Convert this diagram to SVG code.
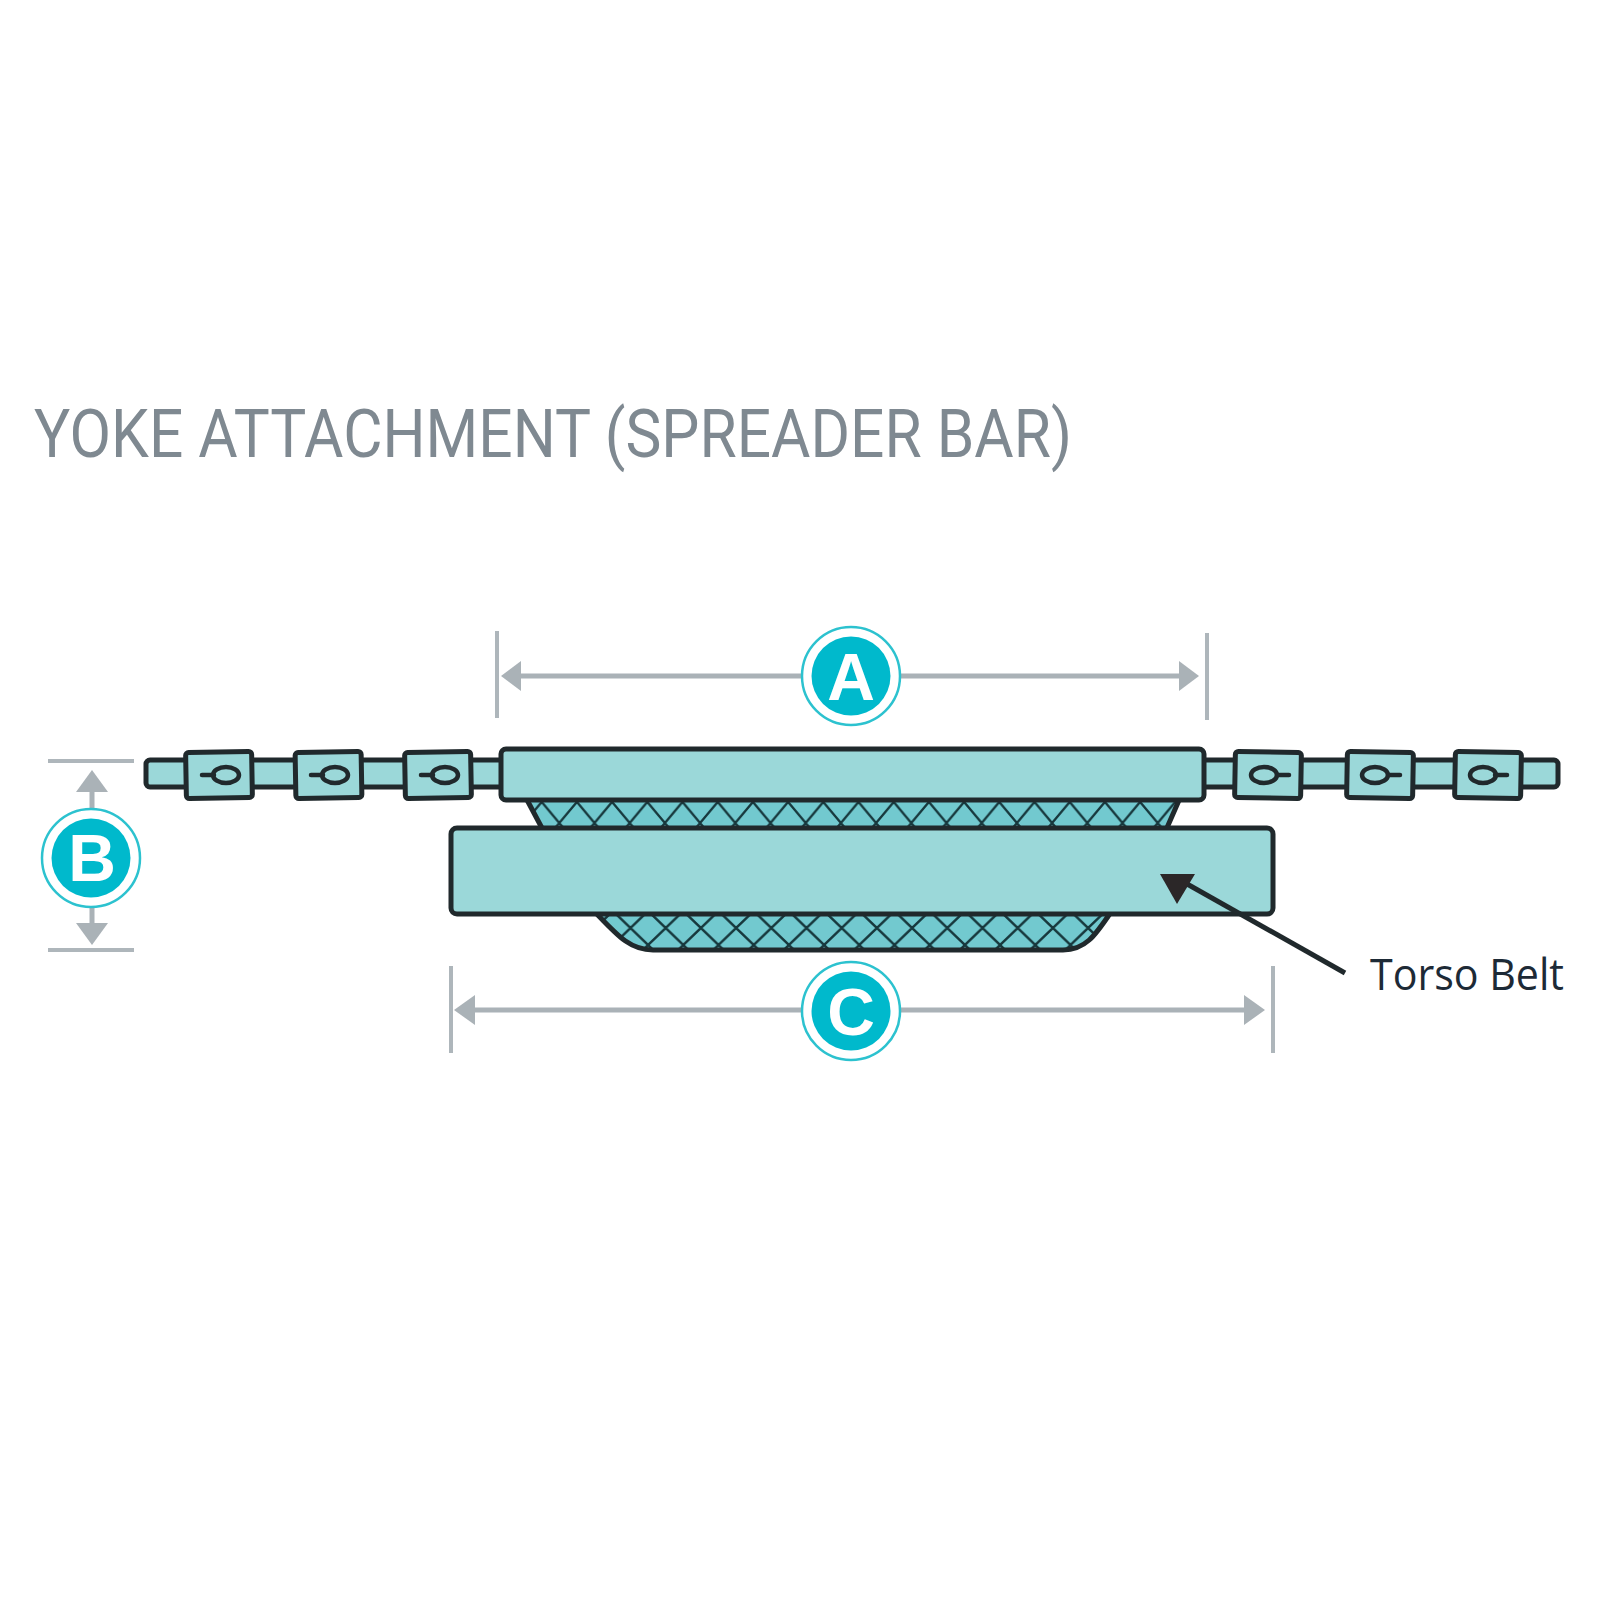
<svg xmlns="http://www.w3.org/2000/svg" xmlns:xlink="http://www.w3.org/1999/xlink" width="1600" height="1600" viewBox="0 0 1600 1600">
<style>
.part{fill:#9bd8d9;stroke:#20292c;stroke-width:5;stroke-linejoin:round}
.eye{fill:none;stroke:#20292c;stroke-width:4.5;stroke-linecap:round}
.dim{fill:none;stroke:#aab2b7;stroke-width:5}
.tick{fill:none;stroke:#aeb6bb;stroke-width:4}
.head{fill:#aab2b7;stroke:none}
.ring{fill:#fff;stroke:#2cc2cf;stroke-width:2.5}
.disc{fill:#00b9cc}
.letter{font-family:"Liberation Sans",Arial,sans-serif;font-weight:700;font-size:66px;fill:#fff;text-anchor:middle}
.mesh{stroke:#20292c;stroke-width:5;stroke-linejoin:round}
</style>
<defs>
<pattern id="hatchTop" width="35.2" height="42" patternUnits="userSpaceOnUse" x="541.7" y="802">
<rect width="35.2" height="42" fill="#72c9cf"/>
<path d="M0 0L35.2 42M35.2 0L0 42" stroke="#17383d" stroke-width="2.4" fill="none"/>
</pattern>
<pattern id="hatchBottom" width="35.2" height="34" patternUnits="userSpaceOnUse" x="683.3" y="945">
<rect width="35.2" height="34" fill="#72c9cf"/>
<path d="M0 0L35.2 34M35.2 0L0 34" stroke="#17383d" stroke-width="2.4" fill="none"/>
</pattern>
<g id="link"><rect x="-33" y="-23" width="66" height="46" rx="3" class="part"/></g>
</defs>
<rect width="1600" height="1600" fill="#fff"/>
<text id="title" x="34" y="457" font-family="Roboto,'Liberation Sans',sans-serif" font-weight="400" font-size="66" fill="#7f8991" textLength="1038" lengthAdjust="spacingAndGlyphs">YOKE ATTACHMENT (SPREADER BAR)</text>

<g id="chain-left">
<rect x="146" y="760" width="358" height="27" rx="4" class="part"/>
<g id="link-l1"><use xlink:href="#link" href="#link" transform="translate(219 775) rotate(-1)"/><path class="eye" d="M202 775H214"/><ellipse class="eye" cx="226" cy="775" rx="13" ry="8"/></g>
<g id="link-l2"><use xlink:href="#link" href="#link" transform="translate(328.500 775) rotate(-1)"/><path class="eye" d="M311 775H323"/><ellipse class="eye" cx="335" cy="775" rx="13" ry="8"/></g>
<g id="link-l3"><use xlink:href="#link" href="#link" transform="translate(438 775) rotate(-1)"/><path class="eye" d="M421 775H433"/><ellipse class="eye" cx="445" cy="775" rx="13" ry="8"/></g>
</g>

<g id="chain-right">
<rect x="1197" y="760" width="361" height="27" rx="4" class="part"/>
<g id="link-r1"><use xlink:href="#link" href="#link" transform="translate(1268 775) rotate(1)"/><path class="eye" d="M1277 775H1289"/><ellipse class="eye" cx="1264" cy="775" rx="13" ry="8"/></g>
<g id="link-r2"><use xlink:href="#link" href="#link" transform="translate(1380 775) rotate(1)"/><path class="eye" d="M1388 775H1400"/><ellipse class="eye" cx="1375" cy="775" rx="13" ry="8"/></g>
<g id="link-r3"><use xlink:href="#link" href="#link" transform="translate(1488 775) rotate(1)"/><path class="eye" d="M1495 775H1507"/><ellipse class="eye" cx="1483" cy="775" rx="13" ry="8"/></g>
</g>

<g id="mesh-top"><path class="mesh" fill="url(#hatchTop)" d="M526 798L543 830H1166L1180 798Z"/></g>
<g id="mesh-bottom"><path class="mesh" fill="url(#hatchBottom)" d="M595 912C618 936 630 950 653 950H1063C1085 950 1095 936 1111 912Z"/></g>
<g id="bar"><rect x="501" y="749" width="703" height="51" rx="5" class="part"/></g>
<g id="torso-belt"><rect x="451" y="828" width="822" height="86" rx="6" class="part"/></g>

<g id="connectors">
<g id="dim-a">
<path class="tick" d="M497 631V718M1207 633V720"/>
<path class="dim" d="M515 676H805M895 676H1185"/>
<path class="head" d="M501 676L521 661V691Z"/>
<path class="head" d="M1199 676L1179 661V691Z"/>
</g>
<g id="dim-b">
<path class="tick" d="M48 761H134M48 950H134"/>
<path class="dim" d="M92 785V815M92 900V930"/>
<path class="head" d="M92 770L108 792H76Z"/>
<path class="head" d="M92 945L108 923H76Z"/>
</g>
<g id="dim-c">
<path class="tick" d="M451 966V1053M1273 966V1053"/>
<path class="dim" d="M470 1010H805M895 1010H1250"/>
<path class="head" d="M454 1010L475 995V1025Z"/>
<path class="head" d="M1265 1010L1244 995V1025Z"/>
</g>
<g id="leader">
<path d="M1345 973L1180 880" fill="none" stroke="#20292c" stroke-width="5"/>
<path d="M1160 874L1195 874L1177 904Z" fill="#2b2728"/>
</g>
</g>

<text id="torso-label" x="1370" y="990" font-family="'Open Sans','Noto Sans',sans-serif" font-size="43" fill="#1d2a36" textLength="194" lengthAdjust="spacingAndGlyphs">Torso Belt</text>

<g id="badge-a"><circle class="ring" cx="851" cy="676" r="49"/><circle class="disc" cx="851" cy="676" r="39.500"/><text class="letter" x="851" y="700">A</text></g>
<g id="badge-b"><circle class="ring" cx="91" cy="858" r="49"/><circle class="disc" cx="91" cy="858" r="39.500"/><text class="letter" x="92" y="881">B</text></g>
<g id="badge-c"><circle class="ring" cx="851" cy="1011" r="49"/><circle class="disc" cx="851" cy="1011" r="39.500"/><text class="letter" x="851" y="1035">C</text></g>
</svg>
